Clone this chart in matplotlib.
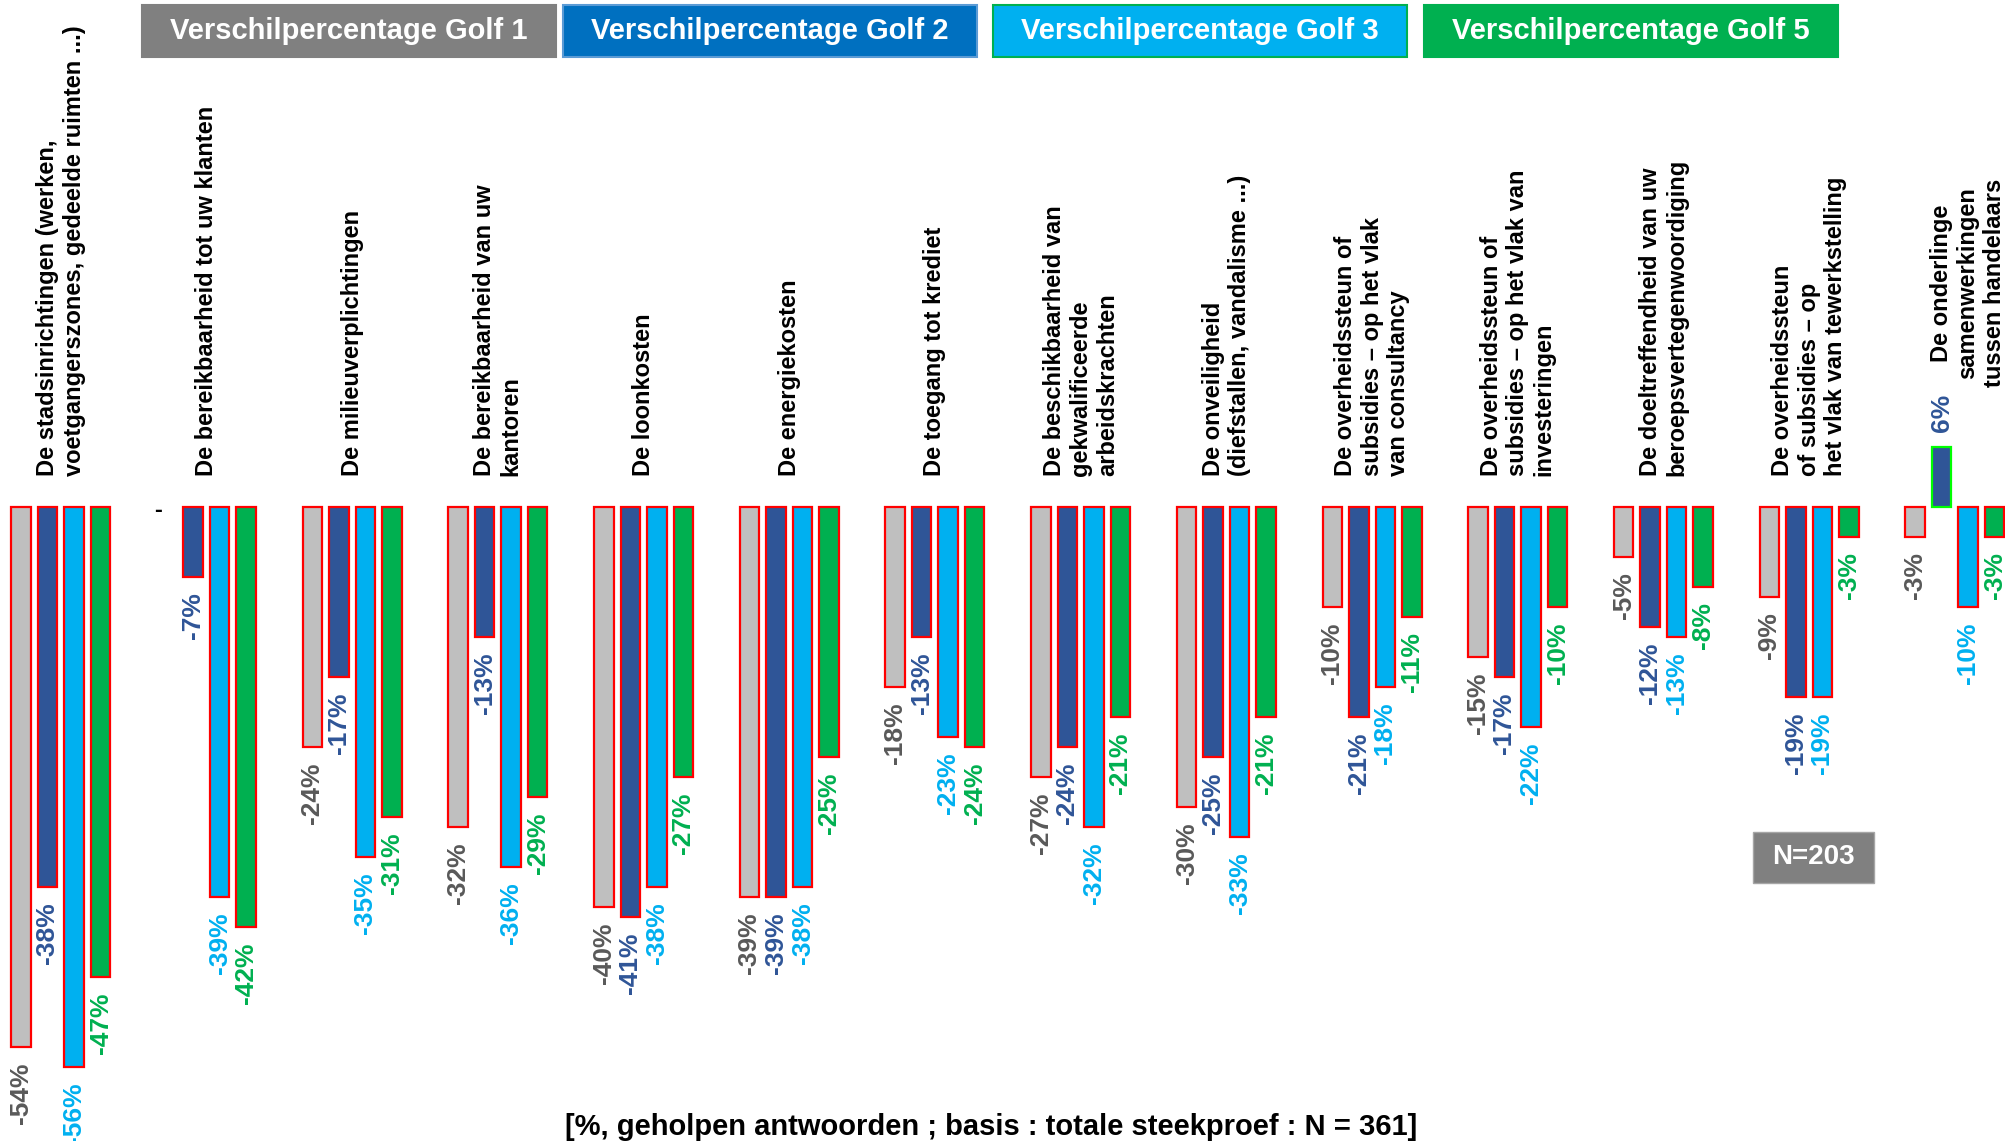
import numpy as np
import matplotlib
matplotlib.use("Agg")
import matplotlib.pyplot as plt
from matplotlib import font_manager
from matplotlib.patches import Rectangle

# data
categories = [
    "De stadsinrichtingen (werken,\nvoetgangerszones, gedeelde ruimten ...)",
    "De bereikbaarheid tot uw klanten",
    "De milieuverplichtingen",
    "De bereikbaarheid van uw\nkantoren",
    "De loonkosten",
    "De energiekosten",
    "De toegang tot krediet",
    "De beschikbaarheid van\ngekwalificeerde\narbeidskrachten",
    "De onveiligheid\n(diefstallen, vandalisme ...)",
    "De overheidssteun of\nsubsidies \u2013 op het vlak\nvan consultancy",
    "De overheidssteun of\nsubsidies \u2013 op het vlak van\ninvesteringen",
    "De doeltreffendheid van uw\nberoepsvertegenwoordiging",
    "De overheidssteun\nof subsidies \u2013 op\nhet vlak van tewerkstelling",
    "De onderlinge\nsamenwerkingen\ntussen handelaars",
]
series_names = [
    "Verschilpercentage Golf 1",
    "Verschilpercentage Golf 2",
    "Verschilpercentage Golf 3",
    "Verschilpercentage Golf 5",
]
golf1 = [-54, np.nan, -24, -32, -40, -39, -18, -27, -30, -10, -15, -5, -9, -3]
golf2 = [-38, -7, -17, -13, -41, -39, -13, -24, -25, -21, -17, -12, -19, 6]
golf3 = [-56, -39, -35, -36, -38, -38, -23, -32, -33, -18, -22, -13, -19, -10]
golf5 = [-47, -42, -31, -29, -27, -25, -24, -21, -21, -11, -10, -8, -3, -3]
footnote = "[%, geholpen antwoorden ; basis : totale steekproef : N = 361]"
subsample = "N=203"

# styling
bar_colors = ["#BFBFBF", "#2F5597", "#00B0F0", "#00B050"]
label_colors = ["#595959", "#2F5597", "#00B0F0", "#00B050"]
header_colors = ["#808080", "#0070C0", "#00B0F0", "#00B050"]
header_edges = ["#808080", "#5B9BD5", "#00B050", "#00B050"]

W, H = 2006, 1141

names = {f.name for f in font_manager.fontManager.ttflist}
if "Liberation Sans Narrow" in names:
    narrow = "Liberation Sans Narrow"
    header_size, foot_size, n_size = 25, 24, 23
else:
    narrow = "Liberation Sans"
    header_size, foot_size, n_size = 21, 21, 20

plt.rcParams["font.family"] = ["Liberation Sans", "DejaVu Sans"]


def px(x, y):
    """Pixel position (from top-left) to figure fraction."""
    return x / W, 1 - y / H


fig = plt.figure(figsize=(W / 100, H / 100), dpi=100)
ax = fig.add_axes([0, 0, 1, 1])
ax.axis("off")

# 1 group = 145.7 px, zero line at y=507 px, 10 px per percent
ax.set_xlim(-0.417, 13.351)
ax.set_ylim(-63.4, 50.7)

series = [golf1, golf2, golf3, golf5]
x = np.arange(len(categories))
step = 0.182
width = 0.134
value_size = 19
gap = 1.5

for j, vals in enumerate(series):
    vals = np.array(vals, dtype=float)
    xs = x + (j - 1.5) * step
    ok = ~np.isnan(vals)
    edges = ["#00FF00" if v > 0 else "#FF0000" for v in vals[ok]]
    ax.bar(xs[ok], vals[ok], width=width, color=bar_colors[j],
           edgecolor=edges, linewidth=1.6, zorder=2)
    for xi, v in zip(xs, vals):
        if np.isnan(v):
            ax.text(xi - 0.06, -0.4, "-", ha="center", va="center",
                    fontsize=17, fontweight="bold", color="black")
        elif v < 0:
            ax.text(xi, v - gap, f"{v:.0f}%", rotation=90, ha="center",
                    va="top", fontsize=value_size, fontweight="bold",
                    color=label_colors[j])
        else:
            ax.text(xi, v + gap, f"{v:.0f}%", rotation=90, ha="center",
                    va="bottom", fontsize=value_size, fontweight="bold",
                    color=label_colors[j])

# category labels sit above the zero line (pushed up where a bar is positive)
for i, cat in enumerate(categories):
    if golf2[i] > 0:
        ax.text(i + 0.09, 12.0, cat, rotation=90, ha="center", va="bottom",
                multialignment="center", fontsize=17, fontweight="bold",
                linespacing=1.2)
    else:
        ax.text(i, 3.1, cat, rotation=90, ha="center", va="bottom",
                multialignment="left", fontsize=17, fontweight="bold",
                linespacing=1.2)

# legend boxes across the top
box_left = [142, 563, 993, 1424]
for name, left, fc, ec in zip(series_names, box_left, header_colors, header_edges):
    x0, y0 = px(left, 57)
    x1, y1 = px(left + 414, 5)
    fig.add_artist(Rectangle((x0, y0), x1 - x0, y1 - y0, transform=fig.transFigure,
                             facecolor=fc, edgecolor=ec, linewidth=1.5))
    fig.text((x0 + x1) / 2, (y0 + y1) / 2, name, ha="center", va="center",
             color="white", fontsize=header_size, fontweight="bold",
             family=[narrow, "Liberation Sans"])

# N=203 box
x0, y0 = px(1753, 883)
x1, y1 = px(1874, 832)
fig.add_artist(Rectangle((x0, y0), x1 - x0, y1 - y0, transform=fig.transFigure,
                         facecolor="#808080", edgecolor="#A6A6A6", linewidth=1))
fig.text((x0 + x1) / 2, (y0 + y1) / 2, subsample, ha="center", va="center",
         color="white", fontsize=n_size, fontweight="bold",
         family=[narrow, "Liberation Sans"])

fx, fy = px(991, 1127)
fig.text(fx, fy, footnote, ha="center", va="center", fontsize=foot_size,
         fontweight="bold", color="black", family=[narrow, "Liberation Sans"])

fig.savefig("out.png", dpi=100)
